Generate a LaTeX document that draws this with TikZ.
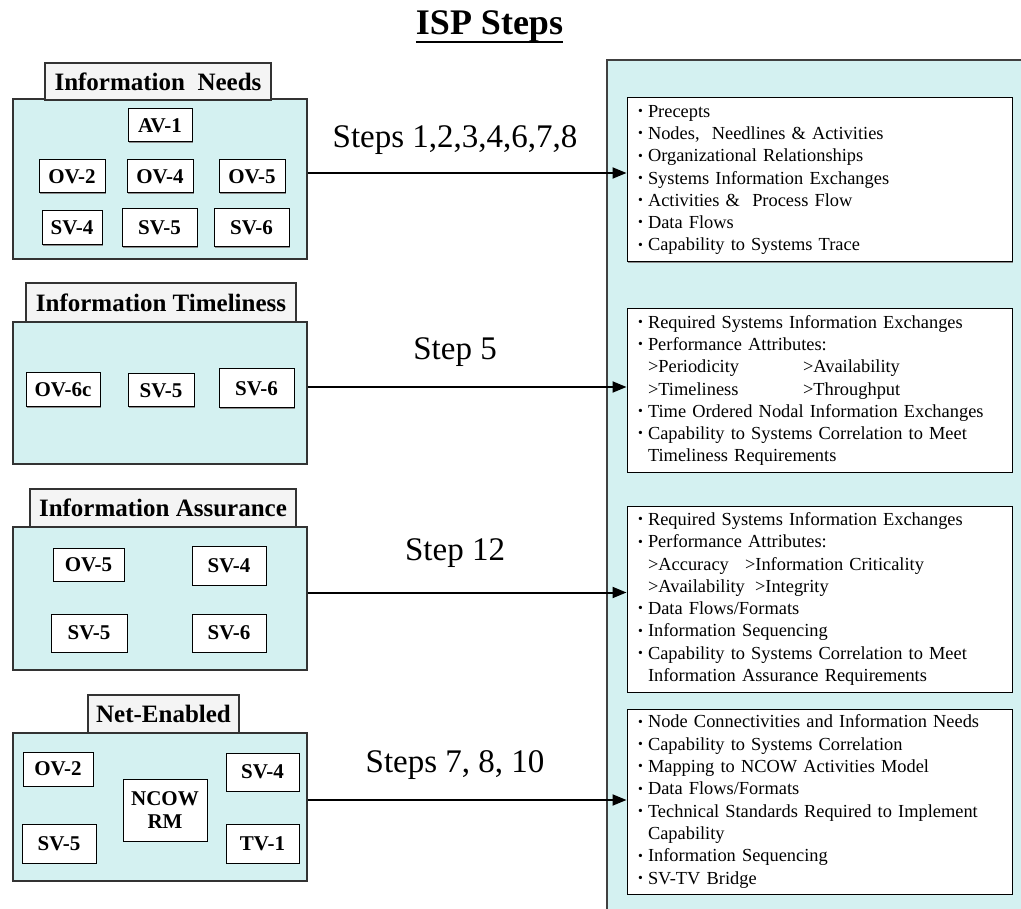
\documentclass[tikz,border=0pt]{standalone}
\usepackage{fontspec}
\usepackage{graphicx}
\setmainfont{Liberation Serif}
\usetikzlibrary{arrows.meta,shadows,calc}
\definecolor{cyanbg}{RGB}{212,241,241}
\definecolor{tabgray}{RGB}{244,244,244}
\newcommand\bul{\makebox[10pt][l]{\raisebox{0.2ex}{\scalebox{0.75}{•}}}}
\newcommand\ind{\hspace*{10pt}}
\begin{document}
\begin{tikzpicture}[x=1pt,y=-1pt,
  myshadow/.style={drop shadow={shadow xshift=1.3pt,shadow yshift=-1.3pt,fill=black!45,opacity=1}},
  panel/.style={draw=black!80,fill=cyanbg,line width=1.2pt,inner sep=0pt,myshadow},
  tabbox/.style={draw=black!80,fill=tabgray,line width=1.2pt,inner sep=0pt,
    font=\bfseries\fontsize{25}{30}\selectfont,myshadow},
  vbox/.style={draw=black,fill=white,line width=1pt,inner sep=0pt,align=center,
    font=\bfseries\fontsize{21}{23}\selectfont,myshadow},
  infobox/.style={draw=black,fill=white,line width=1pt,inner ysep=0pt,inner xsep=11pt,
    text width=363pt,align=left,font=\fontsize{18.4}{22.3}\selectfont,myshadow},
  steplbl/.style={font=\fontsize{33}{38}\selectfont,inner sep=0pt},
  flow/.style={-{Triangle[length=14pt,width=11pt]},line width=2pt}]
\useasboundingbox (0,0) rectangle (1021,909);

% title
\node[font=\bfseries\fontsize{36}{42}\selectfont,inner sep=0pt,anchor=base] (title) at (489.5,35) {ISP Steps};
\draw[line width=2.5pt] ([yshift=-7pt]title.base west) -- ([yshift=-7pt]title.base east);

% right big panel
\fill[cyanbg] (607,60) rectangle (1021,909);
\draw[black!75,line width=1.5pt] (607,909) -- (607,60) -- (1021,60);

% panel 1
\node[panel,minimum width=294pt,minimum height=160pt] (p1) at (160,179) {};
\node[tabbox,minimum width=226pt,minimum height=37pt] (t1) at (158,81.5) {Information\ \ Needs};
\node[vbox,minimum width=64pt,minimum height=33pt] (av1) at (160,125.5) {AV-1};
\node[vbox,minimum width=66pt,minimum height=33pt] (ov2a) at (72,176.5) {OV-2};
\node[vbox,minimum width=66pt,minimum height=33pt] (ov4a) at (160,176.5) {OV-4};
\node[vbox,minimum width=66pt,minimum height=33pt] (ov5a) at (252,176.5) {OV-5};
\node[vbox,minimum width=60pt,minimum height=34pt] (sv4a) at (72,228) {SV-4};
\node[vbox,minimum width=75pt,minimum height=38pt] (sv5a) at (159.5,228) {SV-5};
\node[vbox,minimum width=75pt,minimum height=38pt] (sv6a) at (251.5,228) {SV-6};

% panel 2
\node[panel,minimum width=294pt,minimum height=142pt] (p2) at (160,393) {};
\node[tabbox,minimum width=270pt,minimum height=39pt] (t2) at (161,302.5) {Information Timeliness};
\node[vbox,minimum width=74pt,minimum height=34pt] (ov6c) at (63,390) {OV-6c};
\node[vbox,minimum width=66pt,minimum height=33pt] (sv5b) at (161,390.5) {SV-5};
\node[vbox,minimum width=75pt,minimum height=39pt] (sv6b) at (256.5,388.5) {SV-6};

% panel 3
\node[panel,minimum width=294pt,minimum height=143pt] (p3) at (160,598.5) {};
\node[tabbox,minimum width=266pt,minimum height=38pt] (t3) at (163,508) {Information Assurance};
\node[vbox,minimum width=71pt,minimum height=33pt] (ov5c) at (88.5,564.5) {OV-5};
\node[vbox,minimum width=74pt,minimum height=39pt] (sv4c) at (229,565.5) {SV-4};
\node[vbox,minimum width=76pt,minimum height=38pt] (sv5c) at (89,633) {SV-5};
\node[vbox,minimum width=74pt,minimum height=38pt] (sv6c) at (229,633) {SV-6};

% panel 4
\node[panel,minimum width=294pt,minimum height=148pt] (p4) at (160,807) {};
\node[tabbox,minimum width=151pt,minimum height=38pt] (t4) at (163.5,714) {Net-Enabled};
\node[vbox,minimum width=70pt,minimum height=34pt] (ov2d) at (58,769) {OV-2};
\node[vbox,minimum width=74pt,minimum height=39pt] (sv5d) at (59,843.5) {SV-5};
\node[vbox,minimum width=84pt,minimum height=62pt] (ncow) at (165,810) {NCOW\\RM};
\node[vbox,minimum width=73pt,minimum height=38pt] (sv4d) at (262.5,772) {SV-4};
\node[vbox,minimum width=73pt,minimum height=39pt] (tv1) at (262.5,843.5) {TV-1};

% info boxes
\node[infobox,minimum height=164pt] (b1) at (819.5,180) {%
\bul Precepts\\
\bul Nodes,\ \ Needlines \& Activities\\
\bul Organizational Relationships\\
\bul Systems Information Exchanges\\
\bul Activities \&\ \ Process Flow\\
\bul Data Flows\\
\bul Capability to Systems Trace};

\node[infobox,minimum height=163pt] (b2) at (819.5,390.5) {%
\bul Required Systems Information Exchanges\\
\bul Performance Attributes:\\
\ind\makebox[155pt][l]{>Periodicity}>Availability\\
\ind\makebox[155pt][l]{>Timeliness}>Throughput\\
\bul Time Ordered Nodal Information Exchanges\\
\bul Capability to Systems Correlation to Meet\\
\ind Timeliness Requirements};

\node[infobox,minimum height=186pt] (b3) at (819.5,599) {%
\bul Required Systems Information Exchanges\\
\bul Performance Attributes:\\
\ind\makebox[97pt][l]{>Accuracy}>Information Criticality\\
\ind\makebox[107pt][l]{>Availability}>Integrity\\
\bul Data Flows/Formats\\
\bul Information Sequencing\\
\bul Capability to Systems Correlation to Meet\\
\ind Information Assurance Requirements};

\node[infobox,minimum height=185pt] (b4) at (819.5,801.5) {%
\bul Node Connectivities and Information Needs\\
\bul Capability to Systems Correlation\\
\bul Mapping to NCOW Activities Model\\
\bul Data Flows/Formats\\
\bul Technical Standards Required to Implement\\
\ind Capability\\
\bul Information Sequencing\\
\bul SV-TV Bridge};

% arrows
\coordinate (a1) at ([yshift=6pt]p1.east);
\coordinate (a2) at ([yshift=6pt]p2.east);
\coordinate (a3) at ([yshift=6pt]p3.east);
\coordinate (a4) at ([yshift=7pt]p4.east);
\draw[flow] (a1) -- node[steplbl,midway,xshift=-12pt,yshift=33pt] (l1) {Steps 1,2,3,4,6,7,8} (a1 -| b1.west);
\draw[flow] (a2) -- node[steplbl,midway,xshift=-12pt,yshift=35pt] (l2) {Step 5} (a2 -| b2.west);
\draw[flow] (a3) -- node[steplbl,midway,xshift=-12pt,yshift=39pt] (l3) {Step 12} (a3 -| b3.west);
\draw[flow] (a4) -- node[steplbl,midway,xshift=-12pt,yshift=35pt] (l4) {Steps 7, 8, 10} (a4 -| b4.west);
\end{tikzpicture}
\end{document}
